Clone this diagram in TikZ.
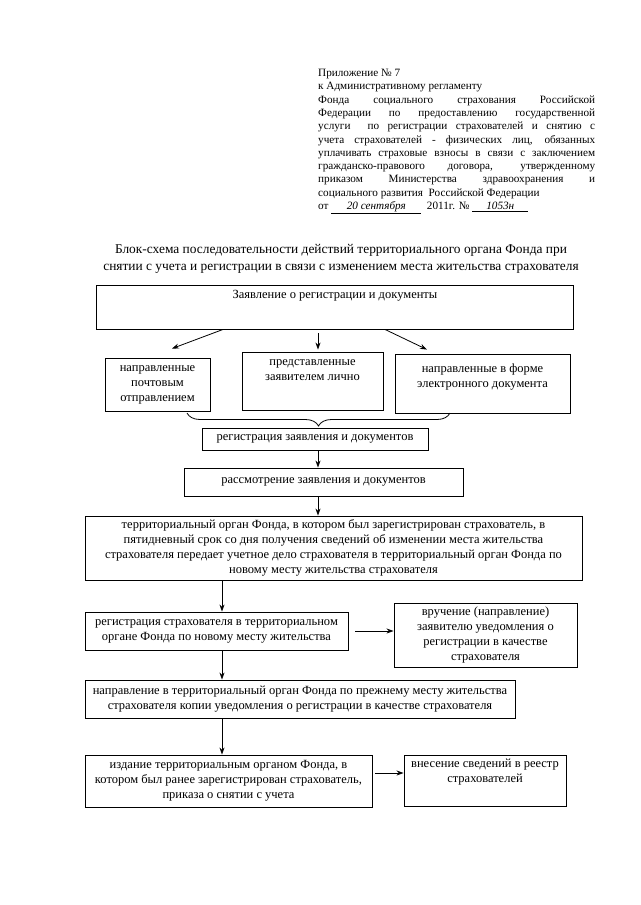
\documentclass[tikz,border=0pt]{standalone}
\usepackage{fontspec}
\setmainfont{Liberation Serif}
\usetikzlibrary{arrows.meta,decorations.pathreplacing}

\begin{document}
\begin{tikzpicture}[x=1pt,y=-1pt,
  frame/.style={draw,line width=0.9pt,inner sep=0pt},
  txt/.style={align=center,inner sep=0pt,font=\fontsize{12.5}{15}\selectfont},
  arr/.style={-{Stealth[length=7pt,width=5pt]},line width=0.8pt}]
  \useasboundingbox (0,0) rectangle (640,905);

  % header
  \node[anchor=north west,inner sep=0pt,text width=277pt,align=justify,
        font=\fontsize{11.2}{13.3}\selectfont] (prilozh) at (318,69)
    {\hyphenpenalty=10000 \exhyphenpenalty=10000\relax
     Приложение № 7\\
     к Административному регламенту\\
     Фонда социального страхования Российской \linebreak
     Федерации по предоставлению государственной \linebreak
     услуги\ \ по регистрации страхователей и снятию с \linebreak
     учета страхователей - физических лиц, обязанных \linebreak
     уплачивать страховые взносы в связи с заключением \linebreak
     гражданско-правового договора, утвержденному \linebreak
     приказом Министерства здравоохранения и \linebreak
     социального развития\ \ Российской Федерации\\
     от \underline{\makebox[90pt]{\itshape 20 сентября}}\ \ 2011г. № \underline{\makebox[56pt]{\itshape 1053н}}};

  % title
  \node[anchor=north,align=center,inner sep=0pt,font=\fontsize{13.4}{17}\selectfont] (title) at (341,244)
    {Блок-схема последовательности действий территориального органа Фонда при\\
     снятии с учета и регистрации в связи с изменением места жительства страхователя};

  % boxes
  \node[frame,minimum width=477pt,minimum height=44pt] (zayav) at (334.5,307) {};
  \node[txt,anchor=north] (zayav-t) at (335,290) {Заявление о регистрации и документы};

  \node[frame,txt,minimum width=105pt,minimum height=53pt] (pochta) at (157.5,384.5)
    {направленные\\ почтовым\\ отправлением};
  \node[frame,minimum width=141pt,minimum height=58pt] (lichno) at (312.5,381) {};
  \node[txt,anchor=north] (lichno-t) at (312.5,359) {представленные\\ заявителем лично};
  \node[frame,minimum width=175pt,minimum height=59pt] (elektr) at (482.5,383.5) {};
  \node[txt,anchor=north] (elektr-t) at (482.5,364) {направленные в форме\\ электронного документа};

  \node[frame,txt,minimum width=226pt,minimum height=22pt] (regzayav) at (315,439)
    {регистрация заявления и документов};
  \node[frame,txt,minimum width=279pt,minimum height=28pt] (rassm) at (323.5,482)
    {рассмотрение заявления и документов};
  \node[frame,txt,minimum width=497pt,minimum height=64pt] (peredaet) at (333.5,548)
    {территориальный орган Фонда, в котором был зарегистрирован страхователь, в\\
     пятидневный срок со дня получения сведений об изменении места жительства\\
     страхователя передает учетное дело страхователя в территориальный орган Фонда по\\
     новому месту жительства страхователя};
  \node[frame,txt,minimum width=263pt,minimum height=38pt] (regstrah) at (216.5,631)
    {регистрация страхователя в территориальном\\ органе Фонда по новому месту жительства};
  \node[frame,txt,minimum width=183pt,minimum height=64pt] (vruch) at (485.5,635)
    {вручение (направление)\\ заявителю уведомления о\\ регистрации в качестве\\ страхователя};
  \node[frame,txt,minimum width=430pt,minimum height=38pt] (naprav) at (300,699)
    {направление в территориальный орган Фонда по прежнему месту жительства\\
     страхователя копии уведомления о регистрации в качестве страхователя};
  \node[frame,txt,minimum width=287pt,minimum height=52pt] (izdan) at (228.5,781)
    {издание территориальным органом Фонда, в\\ котором был ранее зарегистрирован страхователь,\\ приказа о снятии с учета};
  \node[frame,minimum width=162pt,minimum height=51pt] (vnesen) at (485,780.5) {};
  \node[txt,anchor=north] (vnesen-t) at (485,759) {внесение сведений в реестр\\ страхователей};

  % connectors
  \coordinate (mid) at (318,0);
  \coordinate (col) at (222,0);
  \draw[arr] ([xshift=-111.5pt]zayav.south) -- ([shift={(14.5pt,9pt)}]pochta.north);
  \draw[arr] ([yshift=-4pt]zayav.south -| mid) -- ([yshift=2pt]lichno.north -| mid);
  \draw[arr] ([xshift=50.5pt]zayav.south) -- ([shift={(-55.5pt,4pt)}]elektr.north);
  \coordinate (br-l) at (187,413);
  \coordinate (br-r) at (450,413);
  \draw[line width=0.8pt,decorate,decoration={brace,mirror,amplitude=13pt}] (br-l) -- (br-r);
  \draw[arr] (regzayav.south -| mid) -- (rassm.north -| mid);
  \draw[arr] (rassm.south -| mid) -- (peredaet.north -| mid);
  \draw[arr] (peredaet.south -| col) -- (regstrah.north -| col);
  \draw[arr] ([xshift=7pt]regstrah.east) -- (regstrah.east -| vruch.west);
  \draw[arr] (regstrah.south -| col) -- (naprav.north -| col);
  \draw[arr] (naprav.south -| col) -- (izdan.north -| col);
  \draw[arr] ([shift={(3pt,8pt)}]izdan.east) -- ([yshift=8pt]izdan.east -| vnesen.west);
\end{tikzpicture}
\end{document}
